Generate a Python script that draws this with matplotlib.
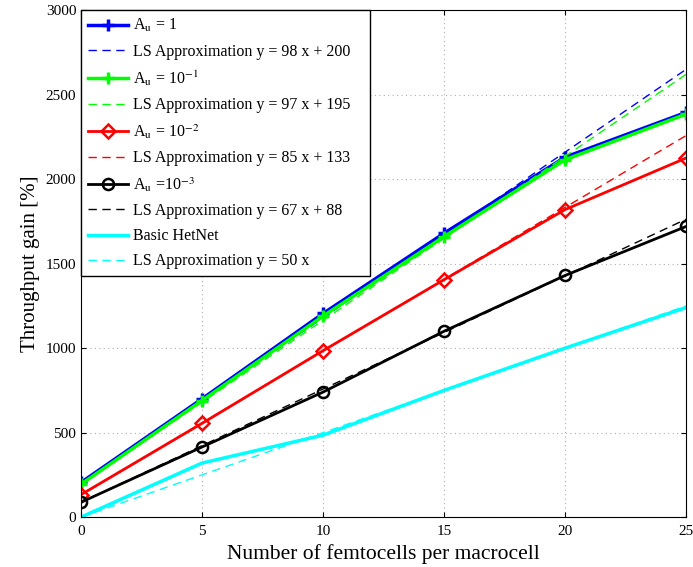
import matplotlib
matplotlib.use('Agg')
import matplotlib.pyplot as plt
import numpy as np

plt.rcParams['font.family'] = ['Liberation Serif', 'DejaVu Serif']
plt.rcParams['mathtext.fontset'] = 'stix'

femtocells = [0, 5, 10, 15, 20, 25]

gain_a1 = [205, 700, 1205, 1680, 2130, 2395]
gain_a01 = [195, 690, 1190, 1660, 2115, 2385]
gain_a001 = [133, 555, 985, 1405, 1820, 2125]
gain_a0001 = [88, 415, 740, 1100, 1430, 1720]
gain_basic = [0, 320, 485, 750, 1000, 1240]

# least squares fits: (slope, intercept)
fit_a1 = (98, 200)
fit_a01 = (97, 195)
fit_a001 = (85, 133)
fit_a0001 = (67, 88)
fit_basic = (50, 0)

x = np.array(femtocells)

fig = plt.figure(figsize=(6.93, 5.67), dpi=100)
ax = fig.add_axes([0.117, 0.088, 0.873, 0.894])

ax.plot(x, gain_a1, color='#0000ff', lw=2.5, marker='+', ms=9, mew=2.5, label=r'A$_\mathrm{u}$ = 1')
ax.plot(x, fit_a1[0] * x + fit_a1[1], color='#0000ff', lw=1, ls='--', dashes=(6, 4),
        label='LS Approximation y = 98 x + 200   ')
ax.plot(x, gain_a01, color='#00ff00', lw=2.5, marker='+', ms=9, mew=2.5, label=r'A$_\mathrm{u}$ = 10$^{-1}$')
ax.plot(x, fit_a01[0] * x + fit_a01[1], color='#00ff00', lw=1, ls='--', dashes=(6, 4),
        label='LS Approximation y = 97 x + 195')
ax.plot(x, gain_a001, color='#ff0000', lw=2, marker='D', ms=7, mew=1.8, mfc='none',
        label=r'A$_\mathrm{u}$ = 10$^{-2}$')
ax.plot(x, fit_a001[0] * x + fit_a001[1], color='#ff0000', lw=1, ls='--', dashes=(6, 4),
        label='LS Approximation y = 85 x + 133')
ax.plot(x, gain_a0001, color='black', lw=2, marker='o', ms=8, mew=1.8, mfc='none',
        label=r'A$_\mathrm{u}$ =10$^{-3}$')
ax.plot(x, fit_a0001[0] * x + fit_a0001[1], color='black', lw=1, ls='--', dashes=(6, 4),
        label='LS Approximation y = 67 x + 88')
ax.plot(x, gain_basic, color='#00ffff', lw=2.5, label='Basic HetNet')
ax.plot(x, fit_basic[0] * x + fit_basic[1], color='#00ffff', lw=1, ls='--', dashes=(6, 4),
        label='LS Approximation y = 50 x')

ax.set_xlim(0, 25)
ax.set_ylim(0, 3000)
ax.set_xticks([0, 5, 10, 15, 20, 25])
ax.set_yticks([0, 500, 1000, 1500, 2000, 2500, 3000])
ax.tick_params(direction='in', labelsize=11, top=True, right=True)
ax.tick_params(axis='x', pad=6)
ax.grid(True, color='#b0b0b0', ls=(0, (1, 3)), lw=0.8)
ax.set_xlabel('Number of femtocells per macrocell', fontsize=15.5)
ax.set_ylabel('Throughput gain [%]', fontsize=15)

leg = ax.legend(loc='upper left', fontsize=11.5, fancybox=False, edgecolor='black',
                framealpha=1, handlelength=2.5, labelspacing=0.57, borderaxespad=0,
                borderpad=0.45, handletextpad=0.3)
leg.get_frame().set_linewidth(1)

fig.savefig('out.png', dpi=100)
